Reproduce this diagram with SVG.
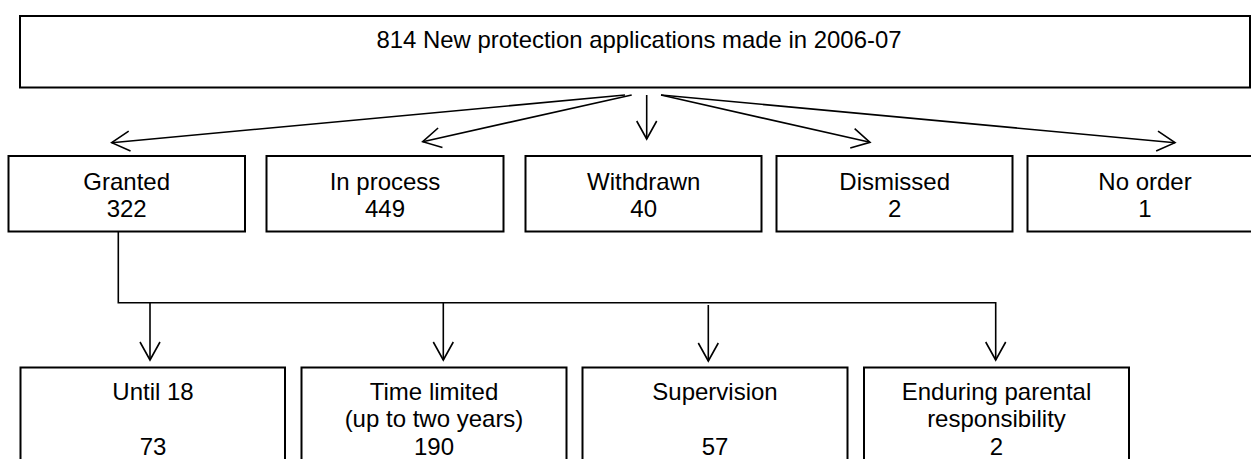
<svg xmlns="http://www.w3.org/2000/svg" width="1251" height="459" viewBox="0 0 1251 459">
<style>
.box{fill:#fff;stroke:#000;stroke-width:2}
.t{font-family:"Liberation Sans",Arial,sans-serif;font-size:24px;fill:#000;text-anchor:middle}
.c{fill:none;stroke:#000;stroke-width:1.6}
</style>
<defs>
<marker id="arr" viewBox="-20 -12 22 24" markerWidth="22" markerHeight="24" refX="0" refY="0" markerUnits="userSpaceOnUse" orient="auto">
<path d="M-18,-10 L0,0 L-18,10" fill="none" stroke="#000" stroke-width="1.6"/>
</marker>
</defs>
<rect width="1251" height="459" fill="#fff"/>
<g id="top">
<rect class="box" x="20" y="16" width="1230" height="71.5"/>
<text class="t" x="639" y="48.3" font-size="22" textLength="525" lengthAdjust="spacingAndGlyphs">814 New protection applications made in 2006-07</text>
</g>
<g id="granted">
<rect class="box" x="8.5" y="156" width="236.5" height="75.5"/>
<text class="t" x="126.7" y="190">Granted</text>
<text class="t" x="126.7" y="217">322</text>
</g>
<g id="inprocess">
<rect class="box" x="266.5" y="156" width="237" height="75.5"/>
<text class="t" x="385" y="190">In process</text>
<text class="t" x="385" y="217">449</text>
</g>
<g id="withdrawn">
<rect class="box" x="525.5" y="156" width="236" height="75.5"/>
<text class="t" x="643.7" y="190">Withdrawn</text>
<text class="t" x="643.7" y="217">40</text>
</g>
<g id="dismissed">
<rect class="box" x="776.5" y="156" width="236" height="75.5"/>
<text class="t" x="894.7" y="190">Dismissed</text>
<text class="t" x="894.7" y="217">2</text>
</g>
<g id="noorder">
<rect class="box" x="1027.5" y="156" width="236.5" height="75.5"/>
<text class="t" x="1145" y="190">No order</text>
<text class="t" x="1145" y="217">1</text>
</g>
<g id="until18">
<rect class="box" x="20.5" y="367.5" width="264.5" height="110"/>
<text class="t" x="153" y="400">Until 18</text>
<text class="t" x="153" y="455">73</text>
</g>
<g id="timelimited">
<rect class="box" x="301.5" y="367.5" width="265" height="110"/>
<text class="t" x="434" y="400">Time limited</text>
<text class="t" x="434" y="427">(up to two years)</text>
<text class="t" x="434" y="455">190</text>
</g>
<g id="supervision">
<rect class="box" x="582.5" y="367.5" width="265" height="110"/>
<text class="t" x="715" y="400">Supervision</text>
<text class="t" x="715" y="455">57</text>
</g>
<g id="enduring">
<rect class="box" x="864" y="367.5" width="265" height="110"/>
<text class="t" x="996.5" y="400">Enduring parental</text>
<text class="t" x="996.5" y="427">responsibility</text>
<text class="t" x="996.5" y="455">2</text>
</g>
<g id="connectors">
<line class="c" x1="625" y1="95" x2="111.7" y2="142.7" marker-end="url(#arr)"/>
<line class="c" x1="631.7" y1="95" x2="422.7" y2="141.7" marker-end="url(#arr)"/>
<line class="c" x1="646.7" y1="95" x2="646.7" y2="139" marker-end="url(#arr)"/>
<line class="c" x1="661" y1="95" x2="870" y2="142.3" marker-end="url(#arr)"/>
<line class="c" x1="661" y1="95" x2="1175" y2="142.7" marker-end="url(#arr)"/>
<path class="c" d="M118.3,231.5 V302.7 H995.7 V360" marker-end="url(#arr)"/>
<line class="c" x1="150" y1="302.7" x2="150" y2="360" marker-end="url(#arr)"/>
<line class="c" x1="443.3" y1="302.7" x2="443.3" y2="360" marker-end="url(#arr)"/>
<line class="c" x1="708.3" y1="305" x2="708.3" y2="361" marker-end="url(#arr)"/>
</g>
</svg>
